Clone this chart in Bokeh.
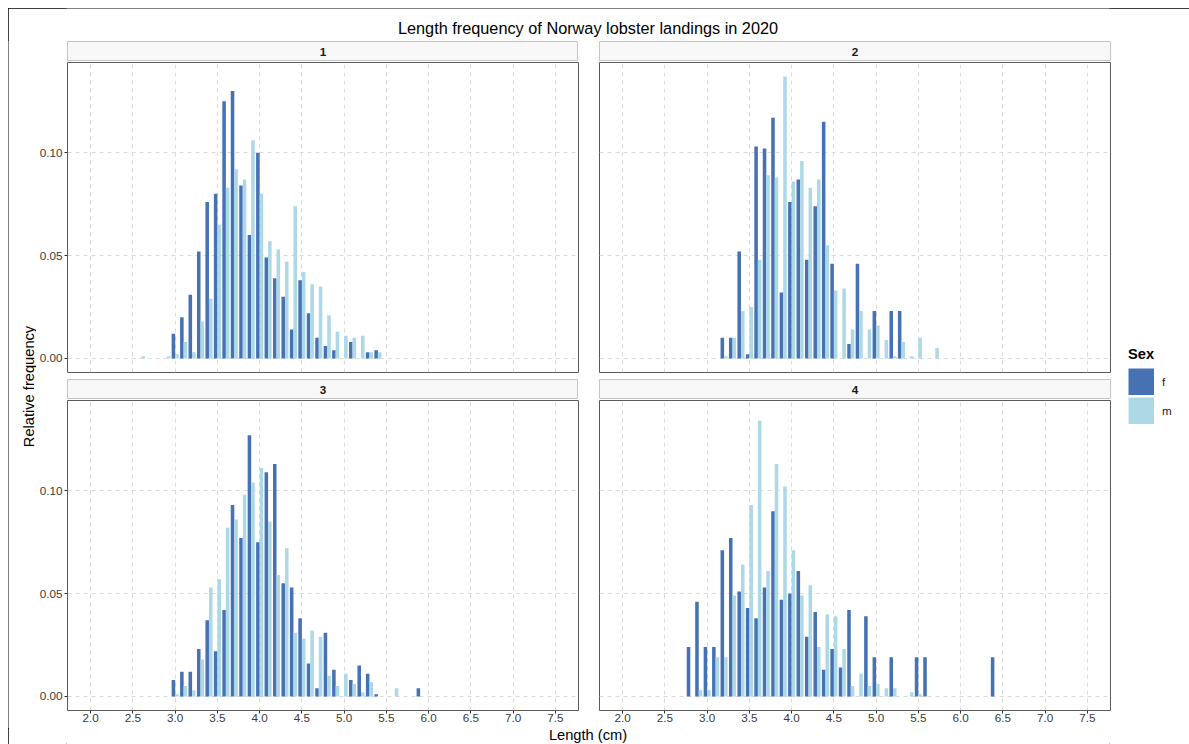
import math
from bokeh.plotting import figure
from bokeh.layouts import column, row
from bokeh.models import (Range1d, FixedTicker, NumeralTickFormatter, Legend,
                          LegendItem, ColumnDataSource, Spacer)
from bokeh.transform import dodge
from bokeh.core.properties import value
from bokeh.embed import file_html
from bokeh.resources import INLINE

# ---------------- data ----------------
title_text = "Length frequency of Norway lobster landings in 2020"
x_title = "Length (cm)"
y_title = "Relative frequency"
legend_title = "Sex"
sexes = ["f", "m"]
panel_labels = ["1", "2", "3", "4"]
x_ticks = [2.0, 2.5, 3.0, 3.5, 4.0, 4.5, 5.0, 5.5, 6.0, 6.5, 7.0, 7.5]
y_ticks = [0.00, 0.05, 0.10]

q1_length = [2.6, 2.7, 2.8, 2.9, 3.0, 3.1, 3.2, 3.3, 3.4, 3.5, 3.6, 3.7, 3.8, 3.9,
             4.0, 4.1, 4.2, 4.3, 4.4, 4.5, 4.6, 4.7, 4.8, 4.9, 5.0, 5.1, 5.2, 5.3, 5.4]
q1_f = [0, 0, 0, 0, 0.012, 0.020, 0.031, 0.052, 0.076, 0.080, 0.125, 0.130, 0.084, 0.060,
        0.100, 0.049, 0.039, 0.030, 0.014, 0.038, 0.022, 0.010, 0.006, 0.004, 0, 0.008, 0, 0.003, 0.004]
q1_m = [0.001, 0, 0, 0.001, 0.002, 0.008, 0.003, 0.018, 0.029, 0.065, 0.083, 0.092, 0.087, 0.106,
        0.080, 0.057, 0.053, 0.047, 0.074, 0.042, 0.036, 0.035, 0.021, 0.013, 0.011, 0.010, 0.011, 0.003, 0.003]

q2_length = [3.2, 3.3, 3.4, 3.5, 3.6, 3.7, 3.8, 3.9, 4.0, 4.1, 4.2, 4.3, 4.4, 4.5,
             4.6, 4.7, 4.8, 4.9, 5.0, 5.1, 5.2, 5.3, 5.4, 5.5, 5.6, 5.7]
q2_f = [0.010, 0.010, 0.052, 0.002, 0.103, 0.102, 0.117, 0.032, 0.076, 0.087, 0.048, 0.074, 0.115, 0.046,
        0, 0.007, 0.046, 0, 0.023, 0, 0.023, 0.023, 0, 0, 0, 0]
q2_m = [0.001, 0.010, 0.023, 0.025, 0.048, 0.089, 0.088, 0.137, 0.086, 0.096, 0.083, 0.087, 0.055, 0.033,
        0.034, 0.014, 0.023, 0.014, 0.016, 0.009, 0.001, 0.008, 0.001, 0.010, 0, 0.005]

q3_length = [3.0, 3.1, 3.2, 3.3, 3.4, 3.5, 3.6, 3.7, 3.8, 3.9, 4.0, 4.1, 4.2, 4.3, 4.4,
             4.5, 4.6, 4.7, 4.8, 4.9, 5.0, 5.1, 5.2, 5.3, 5.4, 5.5, 5.6, 5.7, 5.8, 5.9]
q3_f = [0.008, 0.012, 0.012, 0.023, 0.037, 0.022, 0.042, 0.093, 0.077, 0.127, 0.075, 0.109, 0.113, 0.055, 0.053,
        0.038, 0.016, 0.004, 0.031, 0.013, 0, 0.008, 0.015, 0.011, 0.001, 0, 0, 0, 0, 0.004]
q3_m = [0.001, 0.005, 0.003, 0.018, 0.053, 0.057, 0.082, 0.086, 0.098, 0.104, 0.111, 0.085, 0.059, 0.072, 0.031,
        0.028, 0.032, 0.029, 0.010, 0.005, 0.011, 0.006, 0.002, 0.007, 0, 0, 0.004, 0, 0, 0]

q4_length = [2.8, 2.9, 3.0, 3.1, 3.2, 3.3, 3.4, 3.5, 3.6, 3.7, 3.8, 3.9, 4.0, 4.1, 4.2, 4.3, 4.4, 4.5, 4.6,
             4.7, 4.8, 4.9, 5.0, 5.1, 5.2, 5.3, 5.4, 5.5, 5.6, 5.7, 5.8, 5.9, 6.0, 6.1, 6.2, 6.3, 6.4]
q4_f = [0.024, 0.046, 0.024, 0.024, 0.071, 0.077, 0.051, 0.043, 0.038, 0.053, 0.090, 0.047, 0.050, 0.061, 0.029,
        0.041, 0.013, 0.023, 0.014, 0.042, 0, 0.039, 0.019, 0, 0.019, 0, 0, 0.019, 0.019, 0, 0, 0, 0, 0, 0, 0, 0.019]
q4_m = [0, 0.003, 0.003, 0.019, 0.019, 0.049, 0.064, 0.093, 0.134, 0.061, 0.113, 0.102, 0.071, 0.049, 0.054,
        0.024, 0.040, 0.039, 0.023, 0.005, 0.011, 0.005, 0.006, 0.004, 0.004, 0, 0.002, 0.001, 0, 0, 0, 0, 0, 0, 0, 0, 0]

panels = [(q1_length, q1_f, q1_m), (q2_length, q2_f, q2_m),
          (q3_length, q3_f, q3_m), (q4_length, q4_f, q4_m)]

# ---------------- style ----------------
FONT = "Liberation Sans"
FILL = {"f": "#4672B4", "m": "#ADD8E6"}
GRID_COLOR = "#D9D9D9"
PANEL_BORDER = "#5A5A5A"
STRIP_FILL = "#F8F8F8"
STRIP_BORDER = "#C4C4C4"
TICK_TEXT = "#3A3A3A"

BAR_W = 0.042
OFFSET = 0.021

x_span = max(x_ticks) - min(x_ticks)
X_LO, X_HI = min(x_ticks) - 0.05 * x_span, max(x_ticks) + 0.05 * x_span
y_max = max(max(v) for pnl in panels for v in pnl[1:])
Y_LO, Y_HI = -0.05 * y_max, y_max * 1.05

FRAME_W = 511
FRAME_H = 310
STRIP_H = 20
LEFT_B = 30   # y tick label space (column 1)
GAP_B = 20    # gap between facet columns


def style_panel(p, show_x, show_y):
    p.background_fill_color = "white"
    p.border_fill_color = "white"
    p.outline_line_color = PANEL_BORDER
    p.outline_line_width = 1
    for g in p.xgrid:
        g.ticker = FixedTicker(ticks=x_ticks)
    for g in p.ygrid:
        g.ticker = FixedTicker(ticks=y_ticks)
    p.grid.grid_line_color = GRID_COLOR
    p.grid.grid_line_dash = "4 4"
    p.grid.grid_line_width = 1
    p.grid.minor_grid_line_color = None
    axes = []
    if show_x:
        p.xaxis.ticker = FixedTicker(ticks=x_ticks)
        p.xaxis.formatter = NumeralTickFormatter(format="0.0")
        p.xaxis.major_label_standoff = 0
        axes.append(p.xaxis)
    if show_y:
        p.yaxis.ticker = FixedTicker(ticks=y_ticks)
        p.yaxis.formatter = NumeralTickFormatter(format="0.00")
        p.yaxis.major_label_standoff = 2
        axes.append(p.yaxis)
    for ax in axes:
        ax.axis_line_color = None
        ax.major_tick_line_color = "#333333"
        ax.major_tick_out = 3
        ax.major_tick_in = 0
        ax.minor_tick_line_color = None
        ax.major_label_text_font = FONT
        ax.major_label_text_font_size = "11.7px"
        ax.major_label_text_color = TICK_TEXT


def make_panel(i, col, bottom_row):
    lengths, fv, mv = panels[i]
    src = ColumnDataSource(dict(length=lengths, f=fv, m=mv))
    p = figure(frame_width=FRAME_W, frame_height=FRAME_H,
               x_range=Range1d(X_LO, X_HI), y_range=Range1d(Y_LO, Y_HI),
               x_axis_location="below" if bottom_row else None,
               y_axis_location="left" if col == 0 else None,
               min_border_left=LEFT_B if col == 0 else GAP_B,
               min_border_right=1, min_border_top=1,
               min_border_bottom=18 if bottom_row else 6,
               output_backend="svg", toolbar_location=None)
    style_panel(p, bottom_row, col == 0)
    p.vbar(x=dodge("length", -OFFSET), top="f", width=BAR_W, source=src,
           fill_color=FILL["f"], line_color=None)
    p.vbar(x=dodge("length", OFFSET), top="m", width=BAR_W, source=src,
           fill_color=FILL["m"], line_color=None)
    return p, src


def make_strip(i, col):
    s = figure(frame_width=FRAME_W, frame_height=STRIP_H,
               x_range=Range1d(0, 1), y_range=Range1d(0, 1),
               x_axis_location=None, y_axis_location=None,
               min_border_left=LEFT_B if col == 0 else GAP_B,
               min_border_right=1, min_border_top=1, min_border_bottom=0,
               output_backend="svg", toolbar_location=None)
    s.grid.visible = False
    s.background_fill_color = STRIP_FILL
    s.border_fill_color = "white"
    s.outline_line_color = STRIP_BORDER
    s.text(x=[0.5], y=[0.5], text=[panel_labels[i]], text_align="center",
           text_baseline="middle", text_font=value(FONT), text_font_style="bold",
           text_font_size="11.7px", text_color="#1A1A1A")
    return s


strips = [make_strip(i, i % 2) for i in range(4)]
built = [make_panel(i, i % 2, i >= 2) for i in range(4)]
figs = [b[0] for b in built]

col1 = column(strips[0], figs[0], strips[2], figs[2], spacing=0)
col2 = column(strips[1], figs[1], strips[3], figs[3], spacing=0)

MAIN_H = (1 + STRIP_H) * 2 + (1 + FRAME_H + 6) + (1 + FRAME_H + 18)

# y-axis title
ylab = figure(width=28, height=MAIN_H, x_range=Range1d(0, 1), y_range=Range1d(0, 1),
              x_axis_location=None, y_axis_location=None, min_border=0,
              output_backend="svg", toolbar_location=None)
ylab.grid.visible = False
ylab.outline_line_color = None
ylab.text(x=[20 / 28], y=[0.5 - 2 / MAIN_H], text=[y_title], angle=math.pi / 2,
          text_align="center", text_baseline="middle", text_font=value(FONT),
          text_font_size="14.67px", text_color="black")

# legend (key swatches drawn as thick line proxies so they fill the key box)
lg = figure(width=79, height=MAIN_H, x_range=Range1d(0, 1), y_range=Range1d(0, 1),
            x_axis_location=None, y_axis_location=None, min_border=0,
            output_backend="svg", toolbar_location=None)
lg.grid.visible = False
lg.outline_line_color = None
src0 = built[0][1]
KEY_W, KEY_H = 26, 27
r_f = lg.line(x="length", y="f", source=src0, line_color=FILL["f"], line_width=KEY_H, line_cap="butt")
r_m = lg.line(x="length", y="m", source=src0, line_color=FILL["m"], line_width=KEY_H, line_cap="butt")
legend = Legend(items=[LegendItem(label=sexes[0], renderers=[r_f]),
                       LegendItem(label=sexes[1], renderers=[r_m])],
                title=legend_title, location=(17, 304), orientation="vertical",
                title_text_font=FONT, title_text_font_style="bold",
                title_text_font_size="14.67px", title_text_color="black",
                label_text_font=FONT, label_text_font_size="11.7px", label_text_color="#1A1A1A",
                glyph_width=KEY_W, glyph_height=KEY_H, label_height=20, label_standoff=8,
                spacing=2, padding=0, margin=0, title_standoff=6,
                border_line_color=None, background_fill_alpha=0)
lg.add_layout(legend, "center")

# overall title
tfig = figure(frame_width=1043, frame_height=32, x_range=Range1d(0, 1), y_range=Range1d(0, 1),
              x_axis_location=None, y_axis_location=None,
              min_border_left=58, min_border_right=80, min_border_top=0, min_border_bottom=0,
              output_backend="svg", toolbar_location=None)
tfig.grid.visible = False
tfig.outline_line_color = None
tfig.text(x=[0.5], y=[13 / 32], text=[title_text], text_align="center", text_baseline="middle",
          text_font=value(FONT), text_font_size="16.3px", text_color="black")

# x-axis title
xfig = figure(frame_width=1043, frame_height=16, x_range=Range1d(0, 1), y_range=Range1d(0, 1),
              x_axis_location=None, y_axis_location=None,
              min_border_left=58, min_border_right=80, min_border_top=0, min_border_bottom=0,
              output_backend="svg", toolbar_location=None)
xfig.grid.visible = False
xfig.outline_line_color = None
xfig.text(x=[0.5], y=[10 / 16], text=[x_title], text_align="center", text_baseline="middle",
          text_font=value(FONT), text_font_size="14.67px", text_color="black")

content = column(tfig, row(ylab, col1, col2, lg, spacing=0), xfig, spacing=0,
                 styles={"outline": "1px solid black", "outline-offset": "-1px"})

root = column(Spacer(width=8, height=8),
              row(Spacer(width=8, height=8), content, spacing=0),
              spacing=0)

open("out.html", "w").write(file_html(root, INLINE, title="Norway lobster length frequency"))
